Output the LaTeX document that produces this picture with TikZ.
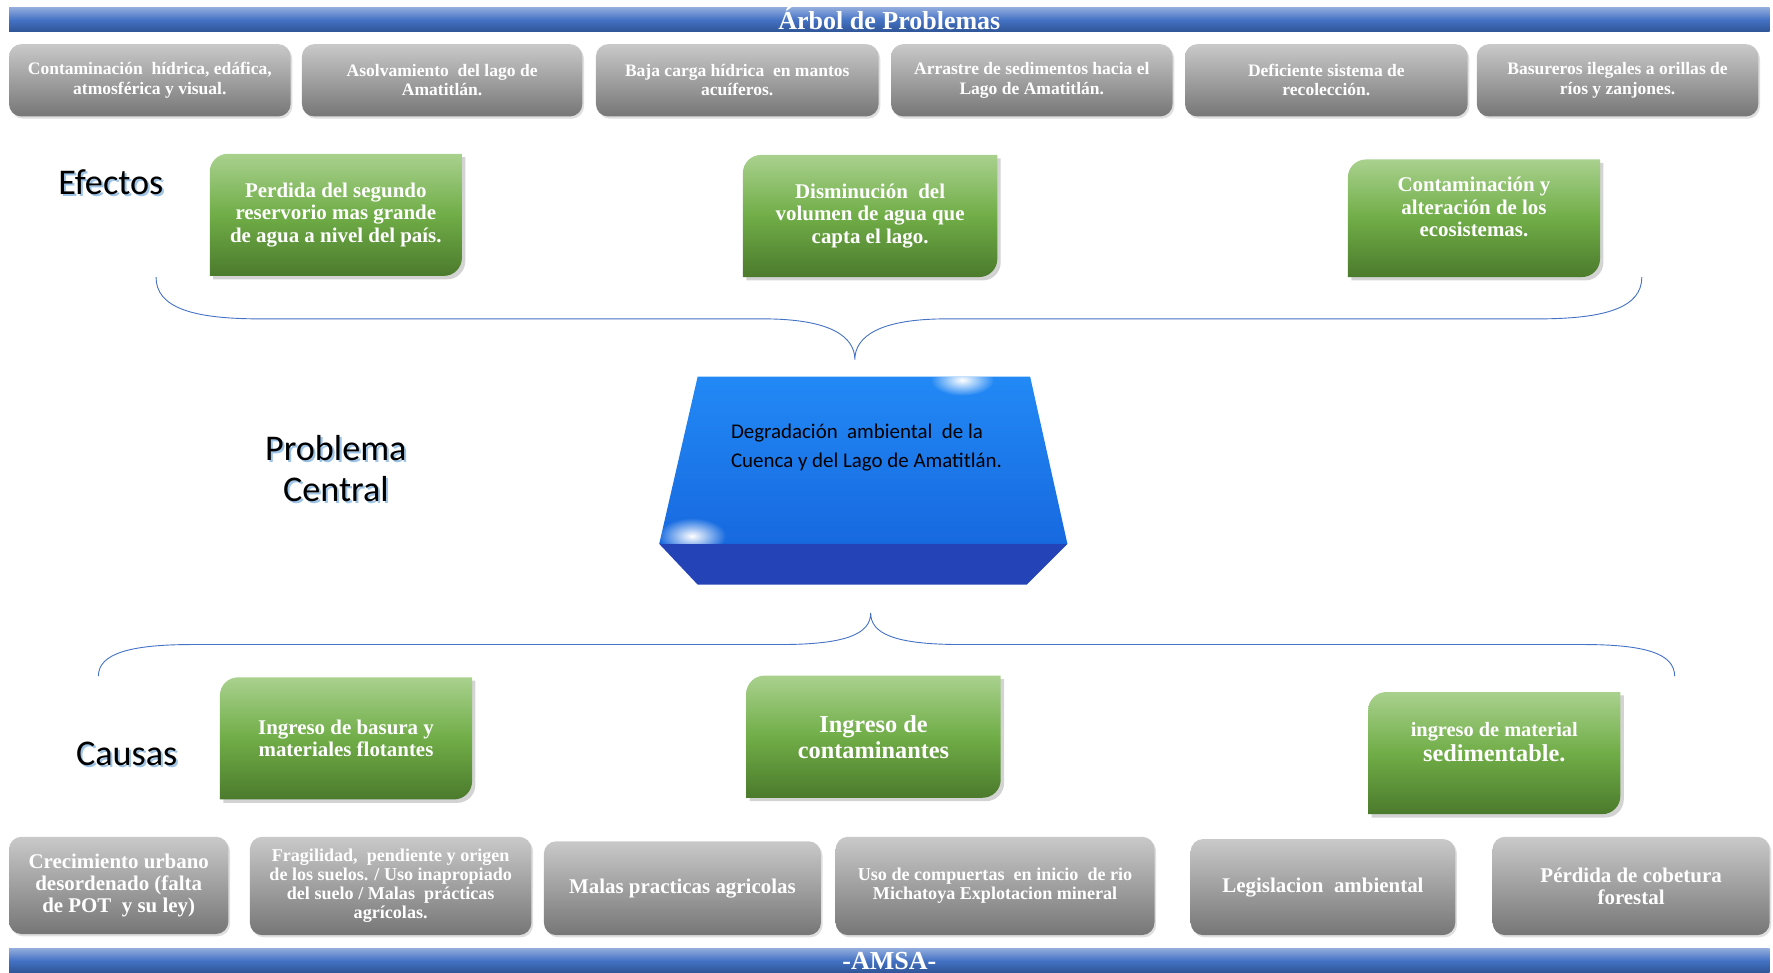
\documentclass[tikz,border=0pt]{standalone}
\usepackage{fontspec}
\setmainfont{Liberation Serif}
\newfontfamily\calibri{Carlito}
\usetikzlibrary{shadows,fadings,backgrounds}

\definecolor{bannertop}{HTML}{8FAADC}
\definecolor{bannermid}{HTML}{4472C4}
\definecolor{bannerbot}{HTML}{2F5597}
\definecolor{graytop}{HTML}{C9C9C9}
\definecolor{graybot}{HTML}{767676}
\definecolor{greentop}{HTML}{A9D18E}
\definecolor{greenmid}{HTML}{70AD47}
\definecolor{greenbot}{HTML}{4B7A2C}
\definecolor{bracecol}{HTML}{4472C4}
\definecolor{glowblue}{HTML}{9DC3E6}
\definecolor{laketop}{HTML}{2289F5}
\definecolor{lakebot}{HTML}{1769DF}
\definecolor{lakefront}{HTML}{2443B6}

\tikzfading[name=glare, inner color=transparent!0, outer color=transparent!100]

\newcommand\glowtxt[1]{\rlap{\hspace{1.8pt}\raisebox{-1.8pt}{\color{glowblue}#1}}#1}

\begin{document}
\begin{tikzpicture}[x=1pt,y=-1pt,
  banner/.style={top color=bannertop, bottom color=bannerbot, middle color=bannermid,
    text=white, font=\bfseries\fontsize{23}{23}\selectfont,
    minimum width=1557pt, minimum height=21pt, inner sep=0pt, outer sep=0pt},
  graybox/.style={rounded corners=11pt, top color=graytop, bottom color=graybot,
    text=white, align=center, inner sep=2pt, outer sep=0pt,
    drop shadow={shadow xshift=1.5pt, shadow yshift=-2pt, opacity=.25}},
  smalltxt/.style={font=\bfseries\fontsize{15.5}{17}\selectfont},
  midtxt/.style={font=\bfseries\fontsize{16}{16.7}\selectfont},
  bigtxt/.style={font=\bfseries\fontsize{18.5}{19.5}\selectfont},
  greenbox/.style={text=white, align=center, font=\bfseries\fontsize{18.5}{20}\selectfont,
    minimum width=223pt, minimum height=108pt, inner sep=0pt, outer sep=0pt},
  greenfill/.style={top color=greentop, bottom color=greenbot, middle color=greenmid,
    drop shadow={shadow xshift=3pt, shadow yshift=-3pt, opacity=.35}},
  sidetitle/.style={font=\calibri\fontsize{32}{36}\selectfont, align=center},
  bracepath/.style={draw=bracecol, line width=.8pt}]
\useasboundingbox (0,0) rectangle (1568,860);
% banners
\node[banner, text height=19pt, text depth=2pt] (titulo) at (786.5,17.5) {Árbol de Problemas};
\node[banner, text height=18pt, text depth=3pt] (pie) at (786.5,849.5) {-AMSA-};
% effects row
\node[graybox, smalltxt, minimum width=249pt, minimum height=64pt] (ef1) at (132.5,71) {Contaminación\ \ hídrica,\ edáfica,\\atmosférica y visual.};
\node[graybox, smalltxt, minimum width=248pt, minimum height=64pt] (ef2) at (391,71) {Asolvamiento\ \ del lago de\\Amatitlán.};
\node[graybox, smalltxt, minimum width=250pt, minimum height=64pt] (ef3) at (652,71) {Baja carga hídrica\ \ en mantos\\acuíferos.};
\node[graybox, smalltxt, minimum width=249pt, minimum height=64pt] (ef4) at (912.5,71) {Arrastre de sedimentos hacia el\\Lago de Amatitlán.};
\node[graybox, smalltxt, minimum width=250pt, minimum height=64pt] (ef5) at (1173,71) {Deficiente sistema de\\recolección.};
\node[graybox, smalltxt, minimum width=249pt, minimum height=64pt] (ef6) at (1430.5,71) {Basureros ilegales a orillas de\\ríos y zanjones.};
% effects
\node[greenbox] (efe1) at (297,190) {Perdida del segundo\\reservorio mas grande\\de agua a nivel del país.};
\node[greenbox, minimum width=225pt] (efe2) at (769.5,191) {Disminución\ \ del\\volumen de agua que\\capta el lago.};
\node[greenbox, minimum height=104pt, text depth=20pt] (efe3) at (1303.5,193) {Contaminación y\\alteración de los\\ecosistemas.};
% causes
\node[greenbox] (cau1) at (306,653) {Ingreso de basura y\\materiales flotantes};
\node[greenbox, minimum width=225pt, font=\bfseries\fontsize{21.5}{23}\selectfont] (cau2) at (772.5,651.5) {Ingreso de\\contaminantes};
\node[greenbox, text depth=20pt, font=\bfseries\fontsize{18}{22}\selectfont] (cau3) at (1321.5,666) {ingreso de material\\{\fontsize{21.5}{22}\selectfont sedimentable.}};
\begin{scope}[on background layer]
\foreach \n in {efe1,efe2,efe3,cau1,cau2,cau3}
  \shade[greenfill] (\n.south west) [rounded corners=16pt] -- (\n.north west)
    [sharp corners] -- (\n.north east) [rounded corners=16pt] -- (\n.south east)
    [sharp corners] -- cycle;
\end{scope}
% causes row
\node[graybox, bigtxt, minimum width=194pt, minimum height=86pt] (ca1) at (105,783) {Crecimiento urbano\\desordenado (falta\\de POT\ \ y su ley)};
\node[graybox, midtxt, minimum width=249pt, minimum height=87pt] (ca2) at (345.5,783.5) {Fragilidad,\ \ pendiente\ y origen\\de los suelos. / Uso inapropiado\\del suelo / Malas\ \ prácticas\\agrícolas.};
\node[graybox, bigtxt, minimum width=245pt, minimum height=83pt] (ca3) at (603.5,785.5) {Malas practicas agricolas};
\node[graybox, midtxt, minimum width=282pt, minimum height=87pt] (ca4) at (880,783.5) {Uso de compuertas\ \ en inicio\ \ de rio\\Michatoya\ Explotacion mineral};
\node[graybox, bigtxt, minimum width=234pt, minimum height=85pt] (ca5) at (1170,784.5) {Legislacion\ \ ambiental};
\node[graybox, bigtxt, minimum width=245pt, minimum height=87pt] (ca6) at (1442.5,783.5) {Pérdida de cobetura\\forestal};
% central problem block
\shade[top color=laketop, bottom color=lakebot] (617,333) -- (911,333) -- (944,481) -- (583,481) -- cycle;
\fill[lakefront] (583,481) -- (944,481) -- (908,517) -- (617,517) -- cycle;
\begin{scope}
\clip (617,333) -- (911,333) -- (944,481) -- (583,481) -- cycle;
\fill[white, path fading=glare] (851,336) ellipse [x radius=28pt, y radius=14pt];
\fill[white, path fading=glare] (612,474) ellipse [x radius=30pt, y radius=16pt];
\end{scope}
\node[anchor=west, align=left, font=\calibri\fontsize{18.5}{26}\selectfont] (problema) at (643,396) {Degradación\ \ ambiental\ \ de la\\Cuenca y del Lago de Amatitlán.};
% side titles
\node[sidetitle] (efectos) at (98,162) {\glowtxt{Efectos}};
\node[sidetitle] (central) at (297,415) {\glowtxt{Problema}\\\glowtxt{Central}};
\node[sidetitle] (causas) at (112,668) {\glowtxt{Causas}};
% braces
\draw[bracepath] (138,245) .. controls (138,272) and (170,282) .. (230,282) -- (675,282)
  .. controls (735,282) and (756,298) .. (756,318) .. controls (756,298) and (777,282) .. (837,282)
  -- (1360,282) .. controls (1420,282) and (1452,272) .. (1452,245);
\draw[bracepath] (87,598) .. controls (87,578) and (115,570) .. (170,570) -- (690,570)
  .. controls (750,570) and (770,560) .. (770,542) .. controls (770,560) and (790,570) .. (850,570)
  -- (1400,570) .. controls (1455,570) and (1481,578) .. (1481,598);
\end{tikzpicture}
\end{document}
